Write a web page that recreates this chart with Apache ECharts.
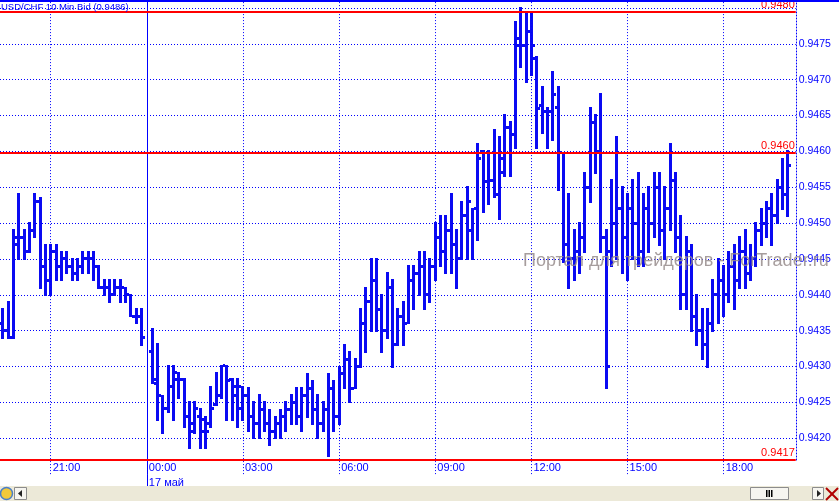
<!DOCTYPE html>
<html><head><meta charset="utf-8">
<script src="https://cdn.jsdelivr.net/npm/echarts@6/dist/echarts.min.js"></script>
<style>html,body{margin:0;padding:0;background:#fff}#c{width:839px;height:501px}</style>
</head><body><div id="c"></div>
<script>
// ---- categories: 10-minute bars, 16 May 19:30 .. 17 May 20:10
const categories = [];
(function () {
  const start = 19 * 60 + 30;
  for (let i = 0; i < 149; i++) {
    const m = start + i * 10;
    const d = m >= 1440 ? 17 : 16;
    const t = m % 1440;
    categories.push(d + ' ' + String(Math.floor(t / 60)).padStart(2, '0') + ':' + String(t % 60).padStart(2, '0'));
  }
})();
const tickLabels = ['16 21:00', '17 00:00', '17 03:00', '17 06:00', '17 09:00', '17 12:00', '17 15:00', '17 18:00'];
const dayStart = '17 00:00';
const dayLabel = '17 май';
const titleText = 'USD/CHF 10 Min Bid (0.9486)';
// session max / level / min lines and their labels
const levelLines = [0.94795, 0.94598, 0.94170];
const levelLabels = ['0.9480', '0.9460', '0.9417'];
const yTicksHidden = [0.9415, 0.9480];

const open = [0.9436,0.9435,0.9434,0.9447,0.9448,0.9446,0.9449,0.9453,0.9444,0.9442,0.9446,0.9444,0.9445,0.9444,0.9443,0.9444,0.9445,0.9445,0.9444,0.9441,0.9441,0.9440,0.9441,0.9441,0.9440,0.9437,0.9437,null,
0.94321,0.94282,0.94259,0.94241,0.94272,0.94291,0.94282,0.94230,0.94210,0.94230,0.94210,0.94221,0.94247,0.94259,0.94301,0.94282,0.94259,0.94241,
0.9426,0.9423,0.9422,0.9424,0.9422,0.9421,0.9422,0.9423,0.9424,0.9425,0.9423,0.9426,0.9427,0.9424,0.9422,0.9424,0.9427,0.9423,0.9429,0.9431,0.9427,0.9430,0.9436,0.9439,0.9442,0.9438,0.9435,0.9441,0.9433,0.9437,0.9436,0.9442,0.9443,0.9444,0.9440,0.9444,0.9448,0.9446,0.9449,0.9447,0.9445,0.9451,
0.9449,0.9452,0.9460,0.94558,0.9456,0.9454,0.9457,0.94633,0.94624,0.94757,0.94747,0.94767,0.9473,0.94664,0.94655,0.94655,0.94661,0.94598,
0.9447,0.9445,0.9446,0.9448,0.9455,0.9464,0.9460,0.9448,0.9446,0.9450,0.9452,0.9448,0.9452,0.9450,0.9446,0.9452,0.9450,0.9455,0.9449,0.9452,0.9456,0.9448,0.9440,0.9446,0.9437,0.9435,0.9433,0.9436,0.9440,0.9442,0.9440,0.9444,0.9442,0.9446,0.9443,0.9445,0.9449,0.9450,0.9452,0.9451,0.9455,0.9454];
const high = [0.9438,0.9439,0.9449,0.9454,0.9449,0.9450,0.9454,0.94535,0.9447,0.9447,0.9447,0.9446,0.9446,0.9445,0.9445,0.9446,0.9446,0.9446,0.9444,0.9442,0.9442,0.9442,0.9442,0.9441,0.9440,0.9438,0.9438,null,
0.94352,0.94331,0.94259,0.94301,0.94301,0.94291,0.94282,0.94251,0.94250,0.94241,0.94230,0.94271,0.94291,0.94301,0.94301,0.94282,0.94282,0.94271,
0.9427,0.9425,0.9426,0.9425,0.9424,0.9423,0.9424,0.9425,0.9426,0.9427,0.9427,0.9429,0.9428,0.9426,0.9425,0.9429,0.9428,0.9430,0.9433,0.9432,0.9431,0.9438,0.9441,0.9445,0.9445,0.9440,0.9443,0.9442,0.9438,0.9439,0.9444,0.9444,0.9446,0.9446,0.9445,0.9450,0.9451,0.9451,0.9454,0.9449,0.9453,0.9455,
0.9452,0.9461,0.9460,0.9460,0.9463,0.9462,0.9465,0.94641,0.94781,0.9480,0.94791,0.94791,0.94731,0.9469,0.94661,0.94711,0.9469,0.94598,
0.9454,0.9449,0.9450,0.9457,0.9466,0.9465,0.9468,0.9449,0.9456,0.9462,0.9455,0.9454,0.9456,0.9457,0.9454,0.9455,0.9457,0.9457,0.9455,0.9461,0.9457,0.9451,0.9448,0.9447,0.9440,0.9438,0.9438,0.9442,0.9445,0.9444,0.9446,0.9447,0.9448,0.9449,0.9447,0.9450,0.9452,0.9453,0.9454,0.9456,0.9459,0.9460,0.9460];
const low = [0.9434,0.9434,0.9434,0.9445,0.9445,0.9446,0.9448,0.9441,0.9440,0.9440,0.9442,0.9442,0.9443,0.9442,0.9442,0.9443,0.9443,0.9442,0.9441,0.9440,0.9439,0.9440,0.9439,0.9439,0.9437,0.9436,0.9433,null,
0.94277,0.94226,0.94207,0.94237,0.94226,0.94256,0.94216,0.94186,0.94207,0.94186,0.94186,0.94216,0.94247,0.94256,0.94226,0.94226,0.94216,0.94226,
0.9421,0.9420,0.9420,0.9421,0.9419,0.9420,0.9420,0.9421,0.9422,0.9422,0.9421,0.9423,0.9422,0.9420,0.9421,0.94175,0.9421,0.9422,0.9427,0.9425,0.9427,0.9430,0.9432,0.9435,0.9435,0.9432,0.9434,0.9430,0.9433,0.9433,0.9436,0.9438,0.9440,0.9438,0.9439,0.9442,0.9444,0.9443,0.9443,0.9441,0.9445,0.9445,
0.9445,0.94477,0.94516,0.94527,0.94537,0.94505,0.94565,0.94565,0.94605,0.94717,0.94696,0.94706,0.94605,0.94626,0.94605,0.94616,0.94546,0.94446,
0.9441,0.9442,0.9443,0.9446,0.9453,0.9457,0.9446,0.9427,0.9444,0.9445,0.9443,0.9442,0.9445,0.9444,0.9444,0.9446,0.9448,0.9447,0.9445,0.9449,0.9446,0.9438,0.9438,0.9435,0.9433,0.9431,0.9430,0.9435,0.9436,0.9437,0.9439,0.9438,0.9441,0.9441,0.9442,0.9444,0.9447,0.9448,0.9447,0.9450,0.9452,0.9451,0.9451];
const close = [0.9435,0.9434,0.9448,0.9448,0.9446,0.9449,0.9453,0.9444,0.9442,0.9446,0.9444,0.9445,0.9444,0.9443,0.9444,0.9445,0.9445,0.9444,0.9441,0.9441,0.9440,0.9441,0.9441,0.9440,0.9437,0.9437,0.9434,null,
0.94277,0.94259,0.94241,0.94272,0.94282,0.94282,0.94230,0.94221,0.94241,0.94226,0.94210,0.94241,0.94259,0.94301,0.94280,0.94272,0.94272,0.94259,
0.9423,0.9422,0.9424,0.9422,0.9421,0.9422,0.9423,0.9424,0.9425,0.9423,0.9426,0.9427,0.9424,0.9422,0.9424,0.9427,0.9423,0.9429,0.9431,0.9427,0.9430,0.9436,0.9439,0.9442,0.9438,0.9435,0.9441,0.9433,0.9437,0.9436,0.9442,0.9443,0.9444,0.9440,0.9444,0.9448,0.9446,0.9449,0.9447,0.9445,0.9451,0.9453,
0.9452,0.9459,0.94558,0.9456,0.9454,0.9459,0.94633,0.94624,0.94747,0.94747,0.94767,0.94747,0.9466,0.94655,0.94655,0.94679,0.94598,0.9447,
0.9445,0.9446,0.9448,0.9455,0.9464,0.9460,0.9448,0.9430,0.9450,0.9452,0.9448,0.9452,0.9450,0.9446,0.9452,0.9450,0.9455,0.9449,0.9452,0.9456,0.9448,0.9440,0.9446,0.9437,0.9435,0.9433,0.9436,0.9440,0.9442,0.9440,0.9444,0.9442,0.9446,0.9443,0.9445,0.9449,0.9450,0.9452,0.9451,0.9455,0.9454,0.9458,0.9456];

const BLUE = '#0000ff';
const BAR = '#0a0af2';
const RED = '#ff0000';
const FONT = 'Liberation Sans, Arial, sans-serif';
const tickSet = new Set(tickLabels);

const ohlc = [];
for (let i = 0; i < categories.length; i++) {
  if (open[i] == null) continue;
  ohlc.push([i, open[i], high[i], low[i], close[i]]);
}

function renderOHLC(params, api) {
  const i = api.value(0);
  const pH = api.coord([i, api.value(2)]);
  const pL = api.coord([i, api.value(3)]);
  const pO = api.coord([i, api.value(1)]);
  const pC = api.coord([i, api.value(4)]);
  const xl = Math.round(pH[0] - 1.5);
  const yt = Math.round(pH[1] - 1);
  const yb = Math.round(pL[1] + 1);
  const st = { fill: BAR };
  return {
    type: 'group',
    children: [
      { type: 'rect', shape: { x: xl, y: yt, width: 3, height: Math.max(3, yb - yt) }, style: st },
      { type: 'rect', shape: { x: xl - 2, y: Math.round(pO[1] - 1.5), width: 2, height: 3 }, style: st },
      { type: 'rect', shape: { x: xl + 3, y: Math.round(pC[1] - 1.5), width: 2, height: 3 }, style: st }
    ]
  };
}

const vLines = tickLabels.map(function (t) {
  return {
    xAxis: categories.indexOf(t),
    lineStyle: t === dayStart ? { color: BLUE, width: 1, type: 'solid' } : { color: BLUE, width: 1, type: [1, 2] },
    label: { show: false }
  };
});
const hLines = levelLines.map(function (v, k) {
  return {
    yAxis: v,
    lineStyle: { color: RED, width: 2, type: 'solid' },
    label: { show: true, position: 'insideEndTop', distance: 1, formatter: levelLabels[k], color: RED, fontSize: 11, fontFamily: FONT }
  };
});

const chart = echarts.init(document.getElementById('c'), null, { renderer: 'canvas' });
chart.setOption({
  animation: false,
  backgroundColor: '#ffffff',
  title: { text: titleText, left: 1, top: 2, padding: 0, textStyle: { color: BLUE, fontSize: 9.5, fontWeight: 'normal', fontFamily: FONT } },
  grid: [
    { left: -0.45, right: 43.25, top: 0, bottom: 26.9 },
    { left: -0.45, right: 43.25, top: 0, bottom: 41 },
    { left: 0, right: 0, top: 475, height: 11 }
  ],
  xAxis: [
    {
      gridIndex: 0, type: 'category', data: categories, boundaryGap: true,
      axisLine: { show: false }, axisTick: { show: false }, splitLine: { show: false },
      axisLabel: {
        inside: true, margin: 1, align: 'left', padding: [0, 0, 0, 2],
        interval: function (i, v) { return tickSet.has(v); },
        formatter: function (v) { return v.slice(3); },
        color: BLUE, fontSize: 11, fontFamily: FONT
      }
    },
    {
      gridIndex: 0, type: 'category', data: categories, boundaryGap: true, position: 'bottom',
      axisLine: { show: false },
      axisTick: { show: true, alignWithLabel: true, length: 12, interval: function (i, v) { return v === dayStart; }, lineStyle: { color: BLUE, width: 1 } },
      axisLabel: {
        margin: 3, align: 'left', padding: [0, 0, 0, 2],
        interval: function (i, v) { return v === dayStart; },
        formatter: function () { return dayLabel; },
        color: BLUE, fontSize: 11, fontFamily: FONT
      },
      splitLine: { show: false }
    },
    { gridIndex: 1, type: 'category', data: categories, show: false },
    { gridIndex: 2, type: 'value', position: 'top', min: 0, max: 1,
      axisLine: { show: true, lineStyle: { color: BLUE, width: 1 } }, axisTick: { show: false }, axisLabel: { show: false }, splitLine: { show: false } }
  ],
  yAxis: [
    {
      gridIndex: 0, type: 'value', min: 0.9415, max: 0.94811, interval: 0.0005, position: 'right',
      axisLine: { show: false }, axisTick: { show: false },
      axisLabel: {
        margin: 3, color: BLUE, fontSize: 10.5, fontFamily: FONT, showMinLabel: false, showMaxLabel: false,
        formatter: function (v) { return yTicksHidden.some(function (h) { return Math.abs(h - v) < 1e-7; }) ? '' : v.toFixed(4); }
      },
      splitLine: { show: true, showMinLine: false, showMaxLine: false, lineStyle: { color: BLUE, width: 1, type: [1, 2] } }
    },
    {
      gridIndex: 1, type: 'value', position: 'right',
      axisLine: { show: true, lineStyle: { color: BLUE, width: 1, type: [1, 2] } },
      axisTick: { show: false }, axisLabel: { show: false }, splitLine: { show: false }
    },
    { gridIndex: 2, type: 'value', show: false }
  ],
  series: [
    {
      type: 'custom', xAxisIndex: 0, yAxisIndex: 0, renderItem: renderOHLC, data: ohlc,
      encode: { x: 0, y: [1, 2, 3, 4] }, clip: false, silent: true, z: 3,
      markLine: { silent: true, symbol: 'none', animation: false, precision: 5, data: vLines.concat(hLines) }
    }
  ],
  graphic: [
    { type: 'rect', shape: { x: 0, y: 0, width: 839, height: 2 }, style: { fill: BLUE }, z: 100 },
    { type: 'text', left: 523, top: 252, z: 100, silent: true,
      style: { text: 'Портал для трейдеров - ForTrader.ru', fill: 'rgba(150,140,140,0.85)', font: '18px Liberation Sans, Arial, sans-serif' } },
    { type: 'rect', shape: { x: 0, y: 486, width: 839, height: 15 }, style: { fill: '#ece9d8' }, z: 100 },
    { type: 'circle', shape: { cx: 6.5, cy: 493.5, r: 6 }, style: { fill: '#f2c93a', stroke: '#4a7fc8', lineWidth: 1.5 }, z: 101 },
    { type: 'rect', shape: { x: 14.5, y: 487.5, width: 12, height: 12 }, style: { fill: '#f6f5f0', stroke: '#8c8c8c', lineWidth: 1 }, z: 101 },
    { type: 'polygon', shape: { points: [[22, 490], [22, 497], [18, 493.5]] }, style: { fill: '#222' }, z: 102 },
    { type: 'rect', shape: { x: 750.5, y: 487.5, width: 38, height: 12 }, style: { fill: '#f6f5f0', stroke: '#8c8c8c', lineWidth: 1 }, z: 101 },
    { type: 'rect', shape: { x: 766, y: 490, width: 1.5, height: 7 }, style: { fill: '#000' }, z: 102 },
    { type: 'rect', shape: { x: 768.5, y: 490, width: 1.5, height: 7 }, style: { fill: '#000' }, z: 102 },
    { type: 'rect', shape: { x: 771, y: 490, width: 1.5, height: 7 }, style: { fill: '#000' }, z: 102 },
    { type: 'rect', shape: { x: 812.5, y: 487.5, width: 11, height: 12 }, style: { fill: '#f6f5f0', stroke: '#8c8c8c', lineWidth: 1 }, z: 101 },
    { type: 'polygon', shape: { points: [[817, 490], [817, 497], [821, 493.5]] }, style: { fill: '#222' }, z: 102 },
    { type: 'line', shape: { x1: 826, y1: 488, x2: 838, y2: 500 }, style: { stroke: '#b00000', lineWidth: 2 }, z: 102 },
    { type: 'line', shape: { x1: 838, y1: 488, x2: 826, y2: 500 }, style: { stroke: '#b00000', lineWidth: 2 }, z: 102 }
  ]
});
</script>
</body></html>
